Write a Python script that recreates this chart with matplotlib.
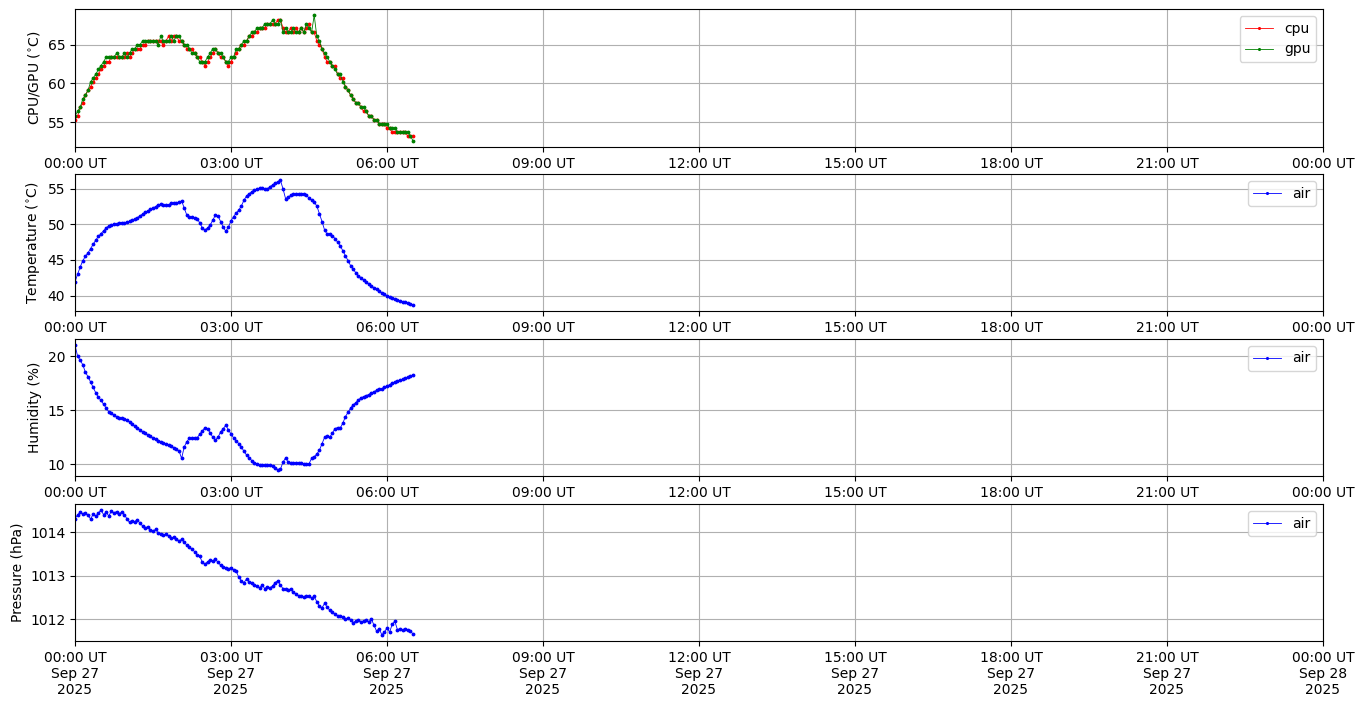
import matplotlib
matplotlib.use("Agg")
import matplotlib.pyplot as plt
import matplotlib.dates as mdates
import pandas as pd

# sample times: every 3 minutes from 00:00 to 06:30 UT on 2025-09-27
times = pd.date_range("2025-09-27 00:00", periods=131, freq="3min")

cpu = [55.3, 55.8, 56.9, 57.5, 58.5, 59.1, 59.6, 60.2, 60.7, 61.2,
       61.8, 62.3, 62.8, 62.8, 63.4, 63.4, 63.4, 63.4, 63.4, 63.4,
       63.9, 63.4, 63.9, 64.5, 64.5, 64.5, 65.0, 65.0, 65.5, 65.5,
       65.5, 65.5, 65.5, 65.5, 65.0, 65.5, 66.1, 65.5, 66.1, 66.1,
       65.5, 65.5, 65.0, 64.5, 64.5, 64.5, 63.9, 63.4, 63.4, 62.8,
       62.3, 62.8, 63.4, 63.9, 64.5, 63.9, 63.4, 63.4, 62.8, 62.3,
       62.8, 63.4, 63.9, 64.5, 65.0, 65.0, 65.5, 66.1, 66.1, 66.6,
       66.6, 67.2, 67.2, 67.2, 67.7, 67.7, 67.7, 67.7, 68.2, 68.2,
       67.2, 66.6, 66.6, 67.2, 66.6, 67.2, 66.6, 67.2, 66.6, 67.2,
       67.7, 66.6, 66.6, 65.5, 65.0, 64.5, 63.4, 62.8, 62.8, 62.3,
       62.3, 61.2, 60.7, 60.7, 59.6, 59.1, 58.5, 58.0, 57.5, 57.5,
       56.9, 56.4, 56.4, 55.8, 55.8, 55.3, 55.3, 54.8, 54.8, 54.8,
       54.2, 54.2, 53.7, 53.7, 53.7, 53.7, 53.7, 53.7, 53.2, 53.2,
       53.2]

gpu = [55.8, 56.4, 56.9, 58.0, 58.5, 59.1, 60.2, 60.7, 61.2, 61.8,
       62.3, 62.8, 63.4, 63.4, 63.4, 63.4, 63.9, 63.4, 63.4, 63.9,
       63.4, 63.9, 64.5, 64.5, 65.0, 65.0, 65.5, 65.5, 65.5, 65.5,
       65.5, 65.5, 65.0, 66.1, 65.5, 65.5, 65.5, 66.1, 65.5, 66.1,
       66.1, 65.5, 65.0, 65.0, 64.5, 63.9, 63.9, 63.4, 62.8, 62.8,
       62.8, 63.4, 63.9, 64.5, 64.5, 63.9, 63.9, 63.4, 62.8, 62.8,
       63.4, 63.4, 64.5, 64.5, 65.0, 65.5, 65.5, 66.1, 66.6, 66.6,
       67.2, 67.2, 67.2, 67.7, 67.7, 67.7, 68.2, 67.7, 67.7, 68.2,
       66.6, 67.2, 66.6, 66.6, 67.2, 66.6, 66.6, 67.2, 66.6, 67.7,
       67.2, 66.6, 68.8, 66.1, 65.5, 64.5, 63.9, 63.4, 62.8, 62.3,
       61.8, 61.2, 61.2, 60.2, 59.6, 59.1, 58.5, 58.0, 57.5, 57.5,
       56.9, 56.9, 56.4, 55.8, 55.8, 55.3, 55.3, 54.8, 54.8, 54.8,
       54.8, 54.2, 54.2, 54.2, 53.7, 53.7, 53.7, 53.7, 53.7, 53.2,
       52.6]

air_temp = [41.9, 43.0, 44.0, 44.9, 45.5, 46.0, 46.6, 47.2, 47.8, 48.3,
            48.7, 49.1, 49.5, 49.8, 49.95, 50.0, 50.0, 50.15, 50.25, 50.25,
            50.3, 50.45, 50.6, 50.75, 50.95, 51.2, 51.45, 51.7, 51.9, 52.1,
            52.3, 52.5, 52.75, 52.8, 52.7, 52.7, 52.75, 52.95, 53.0, 53.05,
            53.1, 53.3, 52.3, 51.3, 51.0, 51.0, 50.95, 50.8, 50.2, 49.5,
            49.2, 49.5, 49.9, 50.6, 51.3, 51.2, 50.4, 49.6, 49.05, 49.6,
            50.5, 51.1, 51.6, 52.0, 52.6, 53.4, 54.0, 54.3, 54.6, 54.8,
            54.95, 55.1, 55.1, 55.0, 55.0, 55.3, 55.55, 55.8, 56.0, 56.2,
            55.0, 53.6, 53.8, 54.1, 54.2, 54.25, 54.25, 54.3, 54.3, 54.1,
            53.7, 53.4, 53.1, 52.6, 51.5, 50.4, 49.2, 48.6, 48.7, 48.4,
            48.0, 47.5, 47.0, 46.3, 45.6, 44.9, 44.2, 43.7, 43.2, 42.8,
            42.5, 42.2, 41.9, 41.6, 41.35, 41.1, 40.85, 40.6, 40.4, 40.2,
            40.0, 39.75, 39.6, 39.45, 39.35, 39.25, 39.15, 39.05, 38.95, 38.8,
            38.7]

air_hum = [21.0, 20.0, 19.6, 19.2, 18.5, 18.1, 17.6, 17.1, 16.6, 16.2,
           15.9, 15.55, 15.2, 14.85, 14.7, 14.55, 14.4, 14.3, 14.25, 14.15,
           14.1, 13.9, 13.7, 13.5, 13.35, 13.2, 13.0, 12.85, 12.7, 12.6,
           12.45, 12.3, 12.2, 12.1, 12.0, 11.9, 11.8, 11.7, 11.55, 11.4,
           11.25, 10.55, 11.6, 12.1, 12.4, 12.4, 12.45, 12.45, 12.8, 13.1,
           13.4, 13.3, 12.9, 12.5, 12.25, 12.5, 13.0, 13.3, 13.6, 13.2,
           12.8, 12.45, 12.2, 11.9, 11.6, 11.2, 10.85, 10.6, 10.35, 10.15,
           10.05, 9.95, 9.9, 9.9, 9.9, 9.9, 9.85, 9.7, 9.5, 9.55,
           10.2, 10.6, 10.2, 10.1, 10.15, 10.1, 10.15, 10.1, 10.05, 10.0,
           10.05, 10.55, 10.7, 10.95, 11.3, 11.9, 12.5, 12.6, 12.5, 12.9,
           13.3, 13.4, 13.35, 13.8, 14.4, 14.8, 15.2, 15.5, 15.7, 15.95,
           16.15, 16.25, 16.35, 16.45, 16.6, 16.7, 16.85, 16.95, 17.0, 17.1,
           17.25, 17.35, 17.5, 17.6, 17.7, 17.8, 17.85, 17.95, 18.05, 18.15,
           18.25]

air_pres = [1014.30, 1014.40, 1014.45, 1014.42, 1014.44, 1014.38, 1014.30, 1014.41, 1014.36, 1014.44,
            1014.50, 1014.40, 1014.45, 1014.37, 1014.48, 1014.44, 1014.47, 1014.42, 1014.46, 1014.40,
            1014.30, 1014.22, 1014.26, 1014.24, 1014.28, 1014.20, 1014.14, 1014.10, 1014.12, 1014.05,
            1014.02, 1014.06, 1013.98, 1013.95, 1013.92, 1013.95, 1013.90, 1013.86, 1013.88, 1013.84,
            1013.80, 1013.83, 1013.76, 1013.70, 1013.66, 1013.60, 1013.55, 1013.48, 1013.44, 1013.30,
            1013.26, 1013.32, 1013.36, 1013.33, 1013.38, 1013.30, 1013.24, 1013.20, 1013.18, 1013.16,
            1013.18, 1013.13, 1013.10, 1012.96, 1012.88, 1012.84, 1012.92, 1012.86, 1012.84, 1012.78,
            1012.76, 1012.72, 1012.78, 1012.70, 1012.74, 1012.72, 1012.76, 1012.84, 1012.88, 1012.78,
            1012.70, 1012.68, 1012.66, 1012.70, 1012.62, 1012.58, 1012.54, 1012.52, 1012.50, 1012.54,
            1012.52, 1012.48, 1012.52, 1012.40, 1012.30, 1012.26, 1012.36, 1012.28, 1012.20, 1012.16,
            1012.12, 1012.08, 1012.06, 1012.04, 1012.00, 1012.02, 1011.98, 1011.92, 1011.96, 1011.98,
            1011.94, 1011.96, 1011.98, 1011.94, 1012.00, 1011.86, 1011.72, 1011.78, 1011.64, 1011.70,
            1011.80, 1011.70, 1011.88, 1011.95, 1011.76, 1011.78, 1011.74, 1011.78, 1011.76, 1011.72,
            1011.66]

day_start = pd.Timestamp("2025-09-27 00:00")
day_end = pd.Timestamp("2025-09-28 00:00")

fig = plt.figure(figsize=(13.64, 7.07), dpi=100)
W, H = 1364, 707
left, right = 75, 1323
panels_px = [(9, 147), (174, 311), (339, 476), (504, 641)]
axes = []
for top, bot in panels_px:
    ax = fig.add_axes([left / W, 1 - bot / H, (right - left) / W, (bot - top) / H])
    axes.append(ax)

style = dict(lw=0.6, marker='.', markersize=3.5)

ax = axes[0]
ax.plot(times, cpu, color='red', label='cpu', **style)
ax.plot(times, gpu, color='green', label='gpu', **style)
ax.set_ylabel('CPU/GPU ($^{\\circ}$C)')

ax = axes[1]
ax.plot(times, air_temp, color='blue', label='air', **style)
ax.set_ylabel('Temperature ($^{\\circ}$C)')

ax = axes[2]
ax.plot(times, air_hum, color='blue', label='air', **style)
ax.set_ylabel('Humidity (%)')

ax = axes[3]
ax.plot(times, air_pres, color='blue', label='air', **style)
ax.set_ylabel('Pressure (hPa)')
ax.yaxis.get_major_formatter().set_useOffset(False)

for i, ax in enumerate(axes):
    ax.set_xlim(day_start, day_end)
    ax.xaxis.set_major_locator(mdates.HourLocator(byhour=range(0, 24, 3)))
    if i < 3:
        ax.xaxis.set_major_formatter(mdates.DateFormatter('%H:%M UT'))
    else:
        ax.xaxis.set_major_formatter(mdates.DateFormatter('%H:%M UT\n%b %d\n%Y'))
    ax.grid(True)
    ax.legend(loc='upper right', markerscale=0.7)

fig.savefig('out.png', dpi=100)
